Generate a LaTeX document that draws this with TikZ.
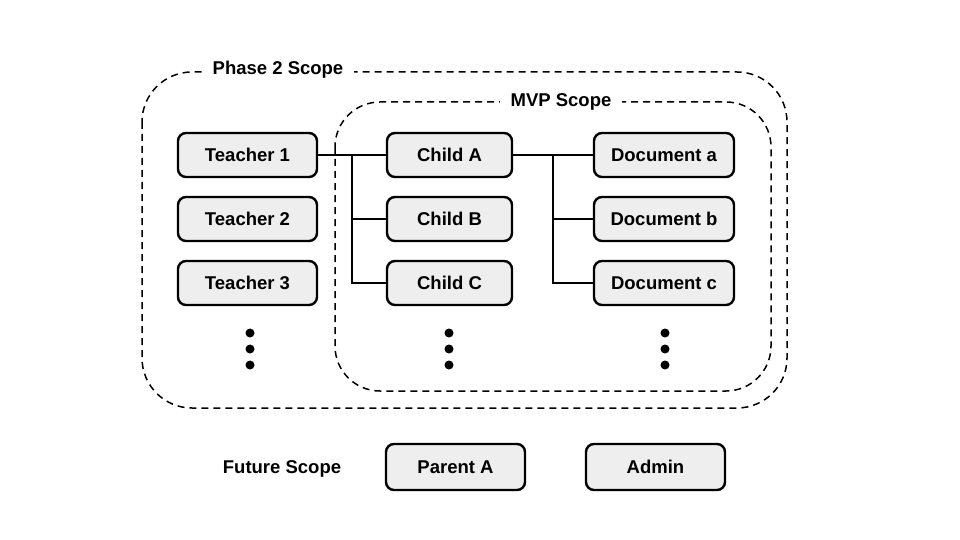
\documentclass[tikz,border=0pt]{standalone}
\usepackage{fontspec}
\setmainfont{Liberation Sans}
\begin{document}
\begin{tikzpicture}[x=1pt,y=-1pt,
  box/.style={draw=black, line width=2.4pt, fill=boxgray, rounded corners=8pt, minimum height=44pt, inner sep=0pt, font=\fontsize{18.5}{20}\selectfont\bfseries},
  conn/.style={draw=black, line width=2.4pt},
  scopeline/.style={draw=black, line width=1.5pt, dash pattern=on 7pt off 5pt},
  scopelabel/.style={fill=white, inner xsep=11pt, inner ysep=3pt, font=\fontsize{18.5}{20}\selectfont\bfseries},
  dotmark/.style={circle, fill=black, inner sep=0pt, minimum size=9pt}
]
\definecolor{boxgray}{HTML}{EEEEEE}
\useasboundingbox (0,0) rectangle (960,540);
% scopes
\draw[scopeline, rounded corners=50pt] (142,72) rectangle (787,408);
\draw[scopeline, rounded corners=45pt] (335,102) rectangle (771,391);
\node[scopelabel] (phase) at (278,70) {Phase 2 Scope};
\node[scopelabel] (mvp) at (561,102) {MVP Scope};
% teachers
\node[box, minimum width=139pt] (t1) at (247.5,155) {Teacher 1};
\node[box, minimum width=139pt] (t2) at (247.5,219) {Teacher 2};
\node[box, minimum width=139pt] (t3) at (247.5,283) {Teacher 3};
% children
\node[box, minimum width=125pt] (ca) at (449.5,155) {Child A};
\node[box, minimum width=125pt] (cb) at (449.5,219) {Child B};
\node[box, minimum width=125pt] (cc) at (449.5,283) {Child C};
% documents
\node[box, minimum width=140pt] (da) at (664,155) {Document a};
\node[box, minimum width=140pt] (db) at (664,219) {Document b};
\node[box, minimum width=140pt] (dc) at (664,283) {Document c};
% connectors
\coordinate (j1) at (352,155);
\coordinate (j2) at (553,155);
\draw[conn] (t1.east) -- (ca.west);
\draw[conn] (j1) -- (j1 |- cc.west) -- (cc.west);
\draw[conn] (j1 |- cb.west) -- (cb.west);
\draw[conn] (ca.east) -- (da.west);
\draw[conn] (j2) -- (j2 |- dc.west) -- (dc.west);
\draw[conn] (j2 |- db.west) -- (db.west);
% dots
\foreach \x/\n in {250/t, 449/c, 665/d}{
  \foreach \y/\m in {333/a, 349/b, 365/c}{
    \node[dotmark] (dot\n\m) at (\x,\y) {};
  }
}
% future
\node[font=\fontsize{18.5}{20}\selectfont\bfseries] (future) at (282,469) {Future Scope};
\node[box, minimum width=139pt, minimum height=46pt] (pa) at (455.5,467) {Parent A};
\node[box, minimum width=139pt, minimum height=46pt] (adm) at (655.5,467) {Admin};
\end{tikzpicture}
\end{document}
